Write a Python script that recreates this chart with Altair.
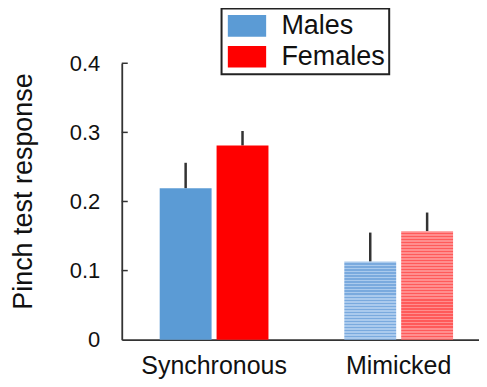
import altair as alt
import pandas as pd

# ---- data ----
conditions = ["Synchronous", "Mimicked"]
genders = ["Males", "Females"]
mean_sync = [0.219, 0.281]      # Males, Females
upper_sync = [0.256, 0.302]
mean_mim = [0.113, 0.157]
upper_mim = [0.155, 0.184]
y_ticks = [0.1, 0.2, 0.3, 0.4]
y_labels = [0, 0.1, 0.2, 0.3, 0.4]

solid_colors = ["#5b9bd5", "#ff0000"]
stripe_base = ["#aacaed", "#ff8e8e"]
stripe_line = ["#7aaade", "#ff5a5a"]

rows = []
for c, means, ups in [("Synchronous", mean_sync, upper_sync), ("Mimicked", mean_mim, upper_mim)]:
    for g, m, u in zip(genders, means, ups):
        rows.append({"condition": c, "gender": g, "value": m, "upper": u})
df = pd.DataFrame(rows)
ticks_df = pd.DataFrame({"t": y_ticks})

FONT = "Liberation Sans"
PX_PER_UNIT = 277 / 0.4


def stripes(base, line, value):
    n = max(1, round(value * PX_PER_UNIT / 3))
    stops = []
    for i in range(n):
        a, b, c = i / n, (i + 0.62) / n, (i + 1) / n
        stops += [{"offset": a, "color": base}, {"offset": b, "color": base},
                  {"offset": b, "color": line}, {"offset": c, "color": line}]
    return {"gradient": "linear", "x1": 0, "y1": 0, "x2": 0, "y2": 1, "stops": stops}


yscale = alt.Scale(domain=[0, 0.4], nice=False, zero=True)
y_axis = alt.Axis(values=y_labels, format=".1~f", ticks=False, grid=False,
                  labelPadding=22, labelFontSize=22, labelBaseline="middle",
                  titleFontSize=27, titleFontWeight="normal", titleX=-98, titleY=128,
                  titleBaseline="middle", titleAngle=-90)
YTITLE = "Pinch test response"

xscale = alt.Scale(domain=conditions, paddingInner=0.4108, paddingOuter=0.173, align=0.594)
x_axis = alt.Axis(ticks=False, grid=False, labelPadding=34, labelFontSize=25, labelAngle=0,
                  labelBaseline="alphabetic")
X = alt.X("condition:N", scale=xscale, axis=x_axis, title=None, sort=conditions)
XO = alt.XOffset("gender:N", scale=alt.Scale(domain=genders, paddingInner=0.0877, paddingOuter=0),
                 sort=genders)
Y = alt.Y("value:Q", scale=yscale, axis=y_axis, title=YTITLE)

base = alt.Chart(df)

sync_bars = base.transform_filter(alt.datum.condition == "Synchronous").mark_bar().encode(
    x=X, xOffset=XO, y=Y,
    color=alt.Color("gender:N", scale=alt.Scale(domain=genders, range=solid_colors),
                    legend=alt.Legend(title=None, orient="none", legendX=100, legendY=-55,
                                      symbolType="M-1.6,-0.9H1.6V0.9H-1.6Z", symbolSize=576,
                                      symbolStrokeWidth=0, symbolOpacity=1, symbolOffset=8,
                                      labelFontSize=27, labelOffset=21, padding=4, rowPadding=3,
                                      strokeColor="#222", fillColor="white"))
)

mim_layers = []
for i, g in enumerate(genders):
    mim_layers.append(
        base.transform_filter((alt.datum.condition == "Mimicked") & (alt.datum.gender == g))
        .mark_bar(fill=stripes(stripe_base[i], stripe_line[i], mean_mim[i]))
        .encode(x=X, xOffset=XO, y=Y)
    )

err = base.mark_rule(color="#333333", strokeWidth=2.5).encode(
    x=X, xOffset=XO, y=Y, y2="upper:Q"
)

tick_marks = alt.Chart(ticks_df).mark_rule(color="#333333", strokeWidth=1.5).encode(
    y=alt.Y("t:Q", scale=yscale, axis=y_axis, title=YTITLE),
    x=alt.value(0), x2=alt.value(6)
)

chart = alt.layer(err, sync_bars, *mim_layers, tick_marks).properties(
    width=358, height=277,
    autosize=alt.AutoSizeParams(type="none"),
    padding={"left": 114, "top": 55, "right": 0, "bottom": 39},
).configure(font=FONT).configure_view(stroke=None).configure_axis(
    domainColor="#333333", domainWidth=1.8, labelColor="#111", titleColor="#111", labelFont=FONT, titleFont=FONT
).configure_legend(strokeWidth=2, labelFont=FONT, labelColor="#111")

chart.save("out.html", embed_options={"renderer": "svg", "actions": False})
